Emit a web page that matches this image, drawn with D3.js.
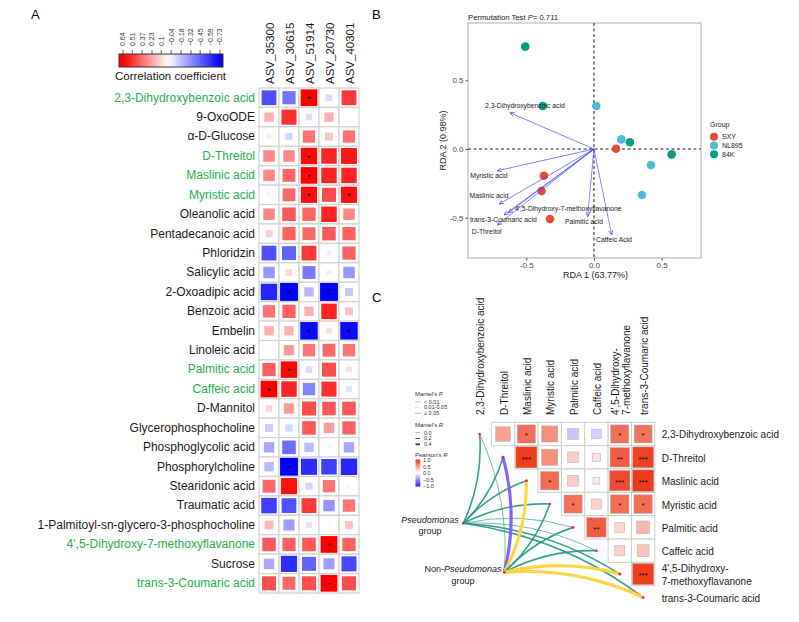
<!DOCTYPE html>
<html><head><meta charset="utf-8">
<script src="https://cdn.jsdelivr.net/npm/d3@7"></script>
<style>body{margin:0;background:#fff;}</style>
</head><body>
<svg id="chart" width="799" height="622"></svg>
<script>
// ================= DATA =================
// Panel A
const metabolitesA = ["2,3-Dihydroxybenzoic acid","9-OxoODE","α-D-Glucose","D-Threitol","Maslinic acid","Myristic acid","Oleanolic acid","Pentadecanoic acid","Phloridzin","Salicylic acid","2-Oxoadipic acid","Benzoic acid","Embelin","Linoleic acid","Palmitic acid","Caffeic acid","D-Mannitol","Glycerophosphocholine","Phosphoglycolic acid","Phosphorylcholine","Stearidonic acid","Traumatic acid","1-Palmitoyl-sn-glycero-3-phosphocholine","4',5-Dihydroxy-7-methoxyflavanone","Sucrose","trans-3-Coumaric acid"];
const highlightedA = ["2,3-Dihydroxybenzoic acid","D-Threitol","Maslinic acid","Myristic acid","Palmitic acid","Caffeic acid","4',5-Dihydroxy-7-methoxyflavanone","trans-3-Coumaric acid"];
const asvs = ["ASV_35300","ASV_30615","ASV_51914","ASV_20730","ASV_40301"];
const corrA = [
 [-0.50,-0.40, 0.64,-0.10, 0.50],
 [ 0.20, 0.52,-0.10, 0.20, 0.00],
 [-0.05,-0.12, 0.35, 0.15, 0.35],
 [ 0.30, 0.30, 0.62, 0.55, 0.58],
 [ 0.30, 0.38, 0.63, 0.55, 0.55],
 [ 0.05, 0.38, 0.60, 0.45, 0.60],
 [ 0.30, 0.42, 0.40, 0.55, 0.30],
 [ 0.12, 0.40, 0.38, 0.42, 0.40],
 [-0.50,-0.45, 0.50,-0.05, 0.40],
 [-0.30, 0.10,-0.38,-0.05,-0.30],
 [-0.62,-0.73,-0.20,-0.73,-0.15],
 [ 0.35, 0.40, 0.20, 0.55, 0.15],
 [ 0.20, 0.20,-0.70, 0.08,-0.70],
 [ 0.00, 0.25, 0.35, 0.38, 0.35],
 [ 0.40, 0.62,-0.10, 0.45, 0.08],
 [ 0.64, 0.55,-0.35, 0.52,-0.08],
 [ 0.10, 0.25, 0.45, 0.42, 0.42],
 [-0.15,-0.12, 0.42, 0.25, 0.40],
 [-0.25,-0.42,-0.20,-0.03,-0.25],
 [-0.20,-0.73,-0.60,-0.55,-0.62],
 [ 0.38, 0.60,-0.12, 0.35, 0.03],
 [-0.55,-0.50, 0.50,-0.30, 0.35],
 [ 0.18,-0.28,-0.08, 0.02, 0.15],
 [ 0.42, 0.40, 0.42, 0.64, 0.40],
 [-0.25,-0.60,-0.45,-0.28,-0.52],
 [ 0.45, 0.38, 0.45, 0.64, 0.45]
];
const sigA = [
 ["","","*","",""],["","","","",""],["","","","",""],["","","*","",""],["","","*","",""],
 ["","","*","","*"],["","","","",""],["","","","",""],["","","","",""],["","","","",""],
 ["","*","","**",""],["","","","",""],["","","*","","*"],["","","","",""],["","*","","",""],
 ["*","","","",""],["","","","",""],["","","","",""],["","","","",""],["","*","","",""],
 ["","","","",""],["","","","",""],["","","","",""],["","","","*",""],["","","","",""],
 ["","","","*",""]
];
const legendTicksA = [0.64,0.51,0.37,0.23,0.1,-0.04,-0.18,-0.32,-0.45,-0.59,-0.73];

// Panel B (RDA)
const rdaGroups = ["SXY","NL895","84K"];
const sampleGroup = ["84K","84K","84K","84K","NL895","NL895","NL895","NL895","SXY","SXY","SXY","SXY"];
const sampleRDA1 = [-0.508,-0.379,0.266,0.574, 0.017,0.202,0.421,0.355, 0.163,-0.370,-0.387,-0.325];
const sampleRDA2 = [ 0.745, 0.313,0.049,-0.039, 0.313,0.070,-0.116,-0.335, 0.002,-0.194,-0.306,-0.509];
const envNames = ["2,3-Dihydroxybenzoic acid","Myristic acid","Maslinic acid","trans-3-Coumaric acid","4',5-Dihydroxy-7-methoxyflavanone","D-Threitol","Palmitic acid","Caffeic Acid"];
const envRDA1 = [-0.621,-0.715,-0.700,-0.665,-0.633,-0.715,-0.047,0.131];
const envRDA2 = [ 0.264,-0.158,-0.400,-0.480,-0.464,-0.553,-0.493,-0.626];
const envLabelRDA1 = [-0.51,-0.776,-0.776,-0.67,-0.19,-0.793,-0.074,0.148];
const envLabelRDA2 = [ 0.313,-0.191,-0.342,-0.517,-0.432,-0.604,-0.526,-0.662];
const rdaTicks = [-0.5,0,0.5];
const permutationP = "0.711";

// Panel C (Mantel)
const cVars = ["2,3-Dihydroxybenzoic acid","D-Threitol","Maslinic acid","Myristic acid","Palmitic acid","Caffeic acid","4',5-Dihydroxy-7-methoxyflavanone","trans-3-Coumaric acid"];
const cVarLines = [["2,3-Dihydroxybenzoic acid"],["D-Threitol"],["Maslinic acid"],["Myristic acid"],["Palmitic acid"],["Caffeic acid"],["4',5-Dihydroxy-","7-methoxyflavanone"],["trans-3-Coumaric acid"]];
const pearsonUpper = [
 [0.45,0.70,0.55,-0.25,-0.20,0.70,0.68],
 [0.95,0.55,0.25,0.15,0.80,0.92],
 [0.72,0.25,0.10,0.88,0.97],
 [0.70,0.22,0.72,0.72],
 [0.80,0.20,0.35],
 [0.22,0.30],
 [0.95]
];
const pearsonSigUpper = [
 ["","*","","","","*","*"],
 ["***","","","","**","***"],
 ["*","","","***","***"],
 ["*","","*","*"],
 ["**","",""],
 ["",""],
 ["***"]
];
const mantelGroups = ["Pseudomonas","Non-Pseudomonas"];
const mantelR = [[0.25,0.25,0.25,0.25,0.10,0.15,0.25,0.25],[0.10,0.50,0.45,0.25,0.25,0.25,0.45,0.45]];
const mantelP = [[0.30,0.20,0.20,0.30,0.60,0.40,0.20,0.20],[0.50,0.004,0.03,0.20,0.20,0.30,0.02,0.03]];

// ================= DRAW =================
const FONT = "'Liberation Sans', Arial, Helvetica, sans-serif";
const svg = d3.select('#chart').attr('font-family', FONT);
const defs = svg.append('defs');
svg.append('rect').attr('width',799).attr('height',622).attr('fill','#fff');

// panel letters
[["A",31,19],["B",372,19],["C",372,302]].forEach(([t,x,y])=>{
  svg.append('text').attr('x',x).attr('y',y).attr('font-size',13).attr('fill','#000').text(t);
});

// ---------- Panel A ----------
const green = '#22b14c';
const xA = d3.scaleBand().domain(asvs).range([259,359]);
const yA = d3.scaleBand().domain(metabolitesA).range([88,593]);
const colorA = d3.scaleLinear().domain([-0.73,0,0.64]).range(['#0000ff','#ffffff','#ff0000']).clamp(true);
const gA = svg.append('g');
const cellsA = [];
metabolitesA.forEach((m,i)=>asvs.forEach((a,j)=>cellsA.push({m,a,r:corrA[i][j],s:sigA[i][j]})));
gA.selectAll('rect.cell').data(cellsA).join('rect')
  .attr('x',d=>xA(d.a)).attr('y',d=>yA(d.m)).attr('width',xA.bandwidth()).attr('height',yA.bandwidth())
  .attr('fill','#fff').attr('stroke','#d3d3d3').attr('stroke-width',1.2);
const sideA = d => Math.min(xA.bandwidth(),yA.bandwidth())*0.92*Math.sqrt(Math.abs(d.r)/0.73);
gA.selectAll('rect.sq').data(cellsA.filter(d=>d.r!==0)).join('rect')
  .attr('x',d=>xA(d.a)+xA.bandwidth()/2-sideA(d)/2).attr('y',d=>yA(d.m)+yA.bandwidth()/2-sideA(d)/2)
  .attr('width',sideA).attr('height',sideA).attr('fill',d=>colorA(d.r));
cellsA.filter(d=>d.s).forEach(d=>{
  const cx=xA(d.a)+xA.bandwidth()/2, cy=yA(d.m)+yA.bandwidth()/2;
  if(d.s.length===1){
    gA.append('text').attr('x',cx).attr('y',cy+4.6).attr('text-anchor','middle').attr('font-size',9).attr('fill','#000').text(d.s);
  } else {
    // stacked stars: one text line turned vertical
    gA.append('text').attr('transform',`translate(${cx+0.6},${cy}) rotate(90)`).attr('dy','0.5em')
      .attr('text-anchor','middle').attr('font-size',9).attr('fill','#000').text(d.s);
  }
});
const axA = gA.append('g').attr('transform','translate(259,0)').call(d3.axisLeft(yA).tickSize(0).tickPadding(4));
axA.select('.domain').remove();
axA.selectAll('text').attr('font-size',12).attr('font-family',FONT).attr('fill',d=>highlightedA.includes(d)?green:'#1a1a1a');
asvs.forEach(a=>{
  gA.append('text').attr('transform',`translate(${xA(a)+xA.bandwidth()/2+1},84) rotate(-90)`)
    .attr('dy','0.35em').attr('font-size',11.5).attr('fill','#1a1a1a').text(a);
});
// legend A
const legA = d3.scaleLinear().domain([0.64,-0.73]).range([123,220]);
const gradA = defs.append('linearGradient').attr('id','gradA').attr('x1','0').attr('x2','1').attr('y1','0').attr('y2','0');
d3.range(0,1.0001,0.05).forEach(t=>{
  gradA.append('stop').attr('offset',t).attr('stop-color',colorA(legA.invert(119+t*104)));
});
gA.append('rect').attr('x',119).attr('y',54).attr('width',104).attr('height',13).attr('fill','url(#gradA)').attr('stroke','#333').attr('stroke-width',1);
legendTicksA.forEach(v=>{
  gA.append('line').attr('x1',legA(v)).attr('x2',legA(v)).attr('y1',50).attr('y2',54).attr('stroke','#333').attr('stroke-width',0.8);
  gA.append('text').attr('transform',`translate(${legA(v)},46) rotate(-90)`).attr('dy','0.35em')
    .attr('font-size',7).attr('fill','#333').text(v<0?'\u2212'+Math.abs(v):String(v));
});
gA.append('text').attr('x',115).attr('y',80).attr('font-size',11.5).attr('fill','#1a1a1a').text('Correlation coefficient');

// ---------- Panel B ----------
const xB = d3.scaleLinear().domain([-0.931,0.791]).range([468,701]);
const yB = d3.scaleLinear().domain([-0.793,0.917]).range([258,23]);
const grpColor = d3.scaleOrdinal().domain(rdaGroups).range(['#e64b35','#4dbbd5','#00a087']);
const gB = svg.append('g');
gB.append('rect').attr('x',468).attr('y',23).attr('width',233).attr('height',235).attr('fill','#fff').attr('stroke','#b5b5b5').attr('stroke-width',1.1);
gB.append('line').attr('x1',xB(0)).attr('x2',xB(0)).attr('y1',23).attr('y2',258).attr('stroke','#000').attr('stroke-dasharray','3,2.5').attr('stroke-width',0.9);
gB.append('line').attr('x1',468).attr('x2',701).attr('y1',yB(0)).attr('y2',yB(0)).attr('stroke','#000').attr('stroke-dasharray','3,2.5').attr('stroke-width',0.9);
const axBy = gB.append('g').attr('transform','translate(468,0)').call(d3.axisLeft(yB).tickValues(rdaTicks).tickSize(2.5).tickPadding(2).tickFormat(d=>d.toFixed(1)));
const axBx = gB.append('g').attr('transform','translate(0,258)').call(d3.axisBottom(xB).tickValues(rdaTicks).tickSize(2.5).tickPadding(2).tickFormat(d=>d.toFixed(1)));
[axBy,axBx].forEach(a=>{a.select('.domain').remove();a.selectAll('line').attr('stroke','#555');a.selectAll('text').attr('font-size',8).attr('fill','#4d4d4d').attr('font-family',FONT);});
gB.append('text').attr('x',595.5).attr('y',278).attr('text-anchor','middle').attr('font-size',9).attr('fill','#1a1a1a').text('RDA 1 (63.77%)');
gB.append('text').attr('transform','translate(446,140.5) rotate(-90)').attr('text-anchor','middle').attr('font-size',9).attr('fill','#1a1a1a').text('RDA 2 (0.98%)');
const tt = gB.append('text').attr('x',468).attr('y',20).attr('font-size',7.7).attr('fill','#1a1a1a');
tt.append('tspan').text('Permutation Test ');
tt.append('tspan').attr('font-style','italic').text('P');
tt.append('tspan').text('= '+permutationP);
// points
gB.selectAll('circle.pt').data(sampleGroup.map((g,i)=>({g,x:sampleRDA1[i],y:sampleRDA2[i]}))).join('circle')
  .attr('cx',d=>xB(d.x)).attr('cy',d=>yB(d.y)).attr('r',4.3).attr('fill',d=>grpColor(d.g));
// arrows
defs.append('marker').attr('id','arrB').attr('viewBox','0 0 10 10').attr('refX',9).attr('refY',5)
  .attr('markerWidth',5).attr('markerHeight',5).attr('orient','auto').attr('markerUnits','userSpaceOnUse')
  .append('path').attr('d','M0,1 L9,5 L0,9').attr('fill','none').attr('stroke','#4646ff').attr('stroke-width',1.4);
envNames.forEach((n,i)=>{
  gB.append('line').attr('x1',xB(0)).attr('y1',yB(0)).attr('x2',xB(envRDA1[i])).attr('y2',yB(envRDA2[i]))
    .attr('stroke','#4646ff').attr('stroke-opacity',0.85).attr('stroke-width',0.8).attr('marker-end','url(#arrB)');
});
envNames.forEach((n,i)=>{
  gB.append('text').attr('x',xB(envLabelRDA1[i])).attr('y',yB(envLabelRDA2[i])).attr('dy','0.35em')
    .attr('text-anchor','middle').attr('font-size',6.8).attr('fill','#222').text(n);
});
// legend B
gB.append('text').attr('x',710).attr('y',127).attr('font-size',7).attr('fill','#222').text('Group');
rdaGroups.forEach((g,i)=>{
  const y=136.7+i*8.8;
  gB.append('circle').attr('cx',714).attr('cy',y).attr('r',4).attr('fill',grpColor(g));
  gB.append('text').attr('x',722).attr('y',y).attr('dy','0.35em').attr('font-size',7).attr('fill','#222').text(g);
});

// ---------- Panel C ----------
const gC = svg.append('g');
const cellC = 23.35;
const xC = d3.scaleBand().domain(cVars).range([468,468+8*cellC]);
const yC = d3.scaleBand().domain(cVars).range([422.3,422.3+8*cellC]);
const colorC = d3.scaleLinear().domain([-1,0,1]).range(['#3311ff','#ffffff','#ee3311']).clamp(true);
const cellsC=[];
pearsonUpper.forEach((row,i)=>row.forEach((r,k)=>{const j=i+1+k;cellsC.push({row:cVars[i],col:cVars[j],r,s:pearsonSigUpper[i][k]});}));
gC.selectAll('rect.cell').data(cellsC).join('rect')
  .attr('x',d=>xC(d.col)).attr('y',d=>yC(d.row)).attr('width',cellC).attr('height',cellC)
  .attr('fill','#fff').attr('stroke','#cfcfcf').attr('stroke-width',1);
const sideC = d=>cellC*0.93*Math.sqrt(Math.abs(d.r));
gC.selectAll('rect.sq').data(cellsC).join('rect')
  .attr('x',d=>xC(d.col)+cellC/2-sideC(d)/2).attr('y',d=>yC(d.row)+cellC/2-sideC(d)/2)
  .attr('width',sideC).attr('height',sideC).attr('fill',d=>colorC(d.r)).attr('stroke','#b0b0b0').attr('stroke-width',0.5);
gC.selectAll('text.sig').data(cellsC.filter(d=>d.s)).join('text')
  .attr('x',d=>xC(d.col)+cellC/2).attr('y',d=>yC(d.row)+cellC/2+4.2).attr('text-anchor','middle')
  .attr('font-size',8).attr('fill','#111').text(d=>d.s);
// labels
cVars.forEach((v,i)=>{
  const lines=cVarLines[i];
  const cx=xC(v)+cellC/2+1, cy=yC(v)+cellC/2;
  lines.forEach((l,k)=>{
    const off=(k-(lines.length-1)/2)*11;
    gC.append('text').attr('transform',`translate(${cx+off},415) rotate(-90)`).attr('dy','0.35em')
      .attr('font-size',10).attr('fill','#1a1a1a').text(l);
    gC.append('text').attr('x',661.7).attr('y',cy+1+(k-(lines.length-1)/2)*13.3).attr('dy','0.35em')
      .attr('font-size',10).attr('fill','#1a1a1a').text(l);
  });
});
// links
const nodePos = [[463.3,523.3],[504.3,572.3]];
const pColor = p => p<0.01?'#7b5cff':(p<0.05?'#ffd33d':'#2a9a8c');
const rWidth = r => r<0.2?0.7:(r<0.4?1.6:3.2);
const linkG = gC.insert('g',':first-child');
mantelGroups.forEach((g,gi)=>{
  cVars.forEach((v,i)=>{
    const [x0,y0]=nodePos[gi];
    const x1=xC(v)+cellC/2, y1=yC(v)+cellC/2;
    const dx=x1-x0, dy=y1-y0, len=Math.hypot(dx,dy);
    let px=-dy/len, py=dx/len;
    if(px-py<0){px=-px;py=-py;}
    const k=0.13*len;
    const cx=(x0+x1)/2+px*k, cy=(y0+y1)/2+py*k;
    linkG.append('path').attr('d',`M${x0},${y0} Q${cx},${cy} ${x1},${y1}`)
      .attr('fill','none').attr('stroke',pColor(mantelP[gi][i])).attr('stroke-width',rWidth(mantelR[gi][i]))
      .attr('stroke-linecap','round').attr('opacity',0.95);
  });
});
cVars.forEach(v=>{
  gC.append('circle').attr('cx',xC(v)+cellC/2).attr('cy',yC(v)+cellC/2).attr('r',1.3).attr('fill','#d6168a');
});
nodePos.forEach(([x,y])=>gC.append('circle').attr('cx',x).attr('cy',y).attr('r',1.3).attr('fill','#d6168a'));
// group labels
const gl1 = gC.append('text').attr('x',430).attr('y',522.5).attr('text-anchor','middle').attr('font-size',9).attr('fill','#1a1a1a');
gl1.append('tspan').attr('font-style','italic').text('Pseudomonas');
gC.append('text').attr('x',430).attr('y',533.5).attr('text-anchor','middle').attr('font-size',9).attr('fill','#1a1a1a').text('group');
const gl2 = gC.append('text').attr('x',463).attr('y',571.5).attr('text-anchor','middle').attr('font-size',9).attr('fill','#1a1a1a');
gl2.append('tspan').text('Non-');
gl2.append('tspan').attr('font-style','italic').text('Pseudomonas');
gC.append('text').attr('x',463).attr('y',584).attr('text-anchor','middle').attr('font-size',9).attr('fill','#1a1a1a').text('group');
// legend C
const lg = gC.append('g').attr('font-size',5.5).attr('fill','#333');
function titled(y,a,b){const t=lg.append('text').attr('x',415).attr('y',y).attr('font-size',6);t.append('tspan').text(a);t.append('tspan').attr('font-style','italic').text(b);}
titled(396,"Mantel's ","P");
[["< 0.01",0.005],["0.01-0.05",0.03],["\u2265 0.05",0.5]].forEach(([t,p],i)=>{
  const y=401.7+i*5.8;
  lg.append('line').attr('x1',415).attr('x2',421).attr('y1',y).attr('y2',y).attr('stroke',pColor(p)).attr('stroke-width',0.8).attr('opacity',0.6);
  lg.append('text').attr('x',424).attr('y',y).attr('dy','0.35em').text(t);
});
titled(427,"Mantel's ","R");
[["0.0",0.1],["0.2",0.3],["0.4",0.5]].forEach(([t,r],i)=>{
  const y=432.7+i*5.8;
  lg.append('line').attr('x1',415.5).attr('x2',420).attr('y1',y).attr('y2',y).attr('stroke','#444').attr('stroke-width',rWidth(r)*0.6);
  lg.append('text').attr('x',424).attr('y',y).attr('dy','0.35em').text(t);
});
titled(457,"Pearson's ","R");
const gradC = defs.append('linearGradient').attr('id','gradC').attr('x1','0').attr('x2','0').attr('y1','0').attr('y2','1');
d3.range(0,1.0001,0.1).forEach(t=>gradC.append('stop').attr('offset',t).attr('stop-color',colorC(1-2*t)));
lg.append('rect').attr('x',415.5).attr('y',459.5).attr('width',4.8).attr('height',27).attr('fill','url(#gradC)');
const legC = d3.scaleLinear().domain([1,-1]).range([460.5,486.5]);
[1,0.5,0,-0.5,-1].forEach(v=>{
  lg.append('text').attr('x',423).attr('y',legC(v)).attr('dy','0.35em').text((v<0?'\u2212':'')+Math.abs(v).toFixed(1));
});
</script>
</body></html>
